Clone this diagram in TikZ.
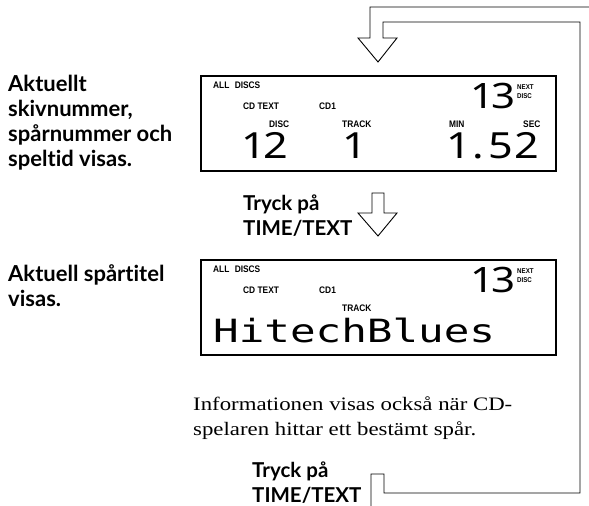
\documentclass[tikz,border=0pt]{standalone}
\usepackage{graphicx}
\usepackage{fontspec}
\setmainfont{Liberation Serif}
\newfontfamily\hd{Lato}[Ligatures=NoCommon]
\newfontfamily\lab{Liberation Sans}[FakeStretch=0.88]
\newfontfamily\lcdfont{Noto Sans}
\newfontfamily\mono{DejaVu Sans Mono}[FakeStretch=1.33]
\newfontfamily\para{Liberation Serif}[FakeStretch=1.2]
\newcommand{\lcdwide}[1]{\scalebox{1.2}[1]{#1}}
\tikzset{
  lcdbox/.style={draw, line width=1.5pt, minimum width=355pt, minimum height=95pt, inner sep=0pt, anchor=north west},
  lbl/.style={font=\lab\bfseries\fontsize{9.5}{9.5}\selectfont, inner sep=0pt, anchor=base west},
  smlbl/.style={font=\lab\bfseries\fontsize{7}{7}\selectfont, inner sep=0pt, anchor=base west},
  dig/.style={font=\lcdfont\fontsize{36}{36}\selectfont, inner sep=0pt, anchor=base},
  sdig/.style={font=\lcdfont\fontsize{35}{35}\selectfont, inner sep=0pt, anchor=base},
  side/.style={font=\hd\bfseries\fontsize{22}{25}\selectfont, align=left, inner sep=0pt, anchor=base west},
  tryck/.style={font=\hd\bfseries\fontsize{20.5}{25}\selectfont, align=left, inner sep=0pt, anchor=base west},
  note/.style={font=\para\fontsize{19}{25}\selectfont, align=left, inner sep=0pt, anchor=base west},
  hollow/.style={draw, line width=0.9pt, line join=miter},
}
\begin{document}
\begin{tikzpicture}[x=1pt,y=-1pt]
\useasboundingbox (0,0) rectangle (589,506);

% side texts (anchor = baseline of the last line)
\node[side] (s1) at (8,166) {Aktuellt\\skivnummer,\\spårnummer och\\speltid visas.};
\node[side] (s2) at (8,306) {Aktuell spårtitel\\visas.};
\node[tryck] (t1) at (243,235) {Tryck på\\TIME/TEXT};
\node[tryck] (t2) at (252,502) {Tryck på\\TIME/TEXT};
\node[note] (n1) at (193,435) {Informationen visas också när CD-\\spelaren hittar ett bestämt spår.};

% display 1
\node[lcdbox] (box1) at (200,75) {};
\node[lbl] (b1all) at (213,88) {ALL\hspace{3pt} DISCS};
\node[lbl] (b1cdt) at (243,109) {CD TEXT};
\node[lbl] (b1cd1) at (319,109) {CD1};
\node[lbl] (b1disc) at (269,127) {DISC};
\node[lbl] (b1track) at (342,127) {TRACK};
\node[lbl] (b1min) at (449,127) {MIN};
\node[lbl] (b1sec) at (523,127) {SEC};
\node[smlbl] (b1next) at (517,89) {NEXT};
\node[smlbl] (b1ndisc) at (517,98) {DISC};
\node[sdig] (b1n1) at (482.5,108) {\lcdwide{1}};
\node[sdig] (b1n3) at (504,108) {\lcdwide{3}};
\node[dig] (b1d1) at (253.7,158) {\lcdwide{1}};
\node[dig] (b1d2) at (276,158) {\lcdwide{2}};
\node[dig] (b1t1) at (354.7,158) {\lcdwide{1}};
\node[dig] (b1m1) at (458.7,158) {\lcdwide{1}};
\node[dig] (b1dot) at (478,158) {\lcdwide{.}};
\node[dig] (b1s5) at (501,158) {\lcdwide{5}};
\node[dig] (b1s2) at (527,158) {\lcdwide{2}};

% display 2
\node[lcdbox] (box2) at (200,259) {};
\node[lbl] (b2all) at (213,272) {ALL\hspace{3pt} DISCS};
\node[lbl] (b2cdt) at (243,293) {CD TEXT};
\node[lbl] (b2cd1) at (319,293) {CD1};
\node[lbl] (b2track) at (342,311) {TRACK};
\node[smlbl] (b2next) at (517,273) {NEXT};
\node[smlbl] (b2ndisc) at (517,282) {DISC};
\node[sdig] (b2n1) at (482.5,292) {\lcdwide{1}};
\node[sdig] (b2n3) at (504,292) {\lcdwide{3}};
\node[font=\mono\fontsize{32}{32}\selectfont, inner sep=0pt, anchor=base west] (title) at (213,342) {HitechBlues};

% hollow arrows
\draw[hollow] (589,7) -- (370,7) -- (370,38) -- (358,38) -- (378,62) -- (397,38)
  -- (383,38) -- (383,22) -- (580,22) -- (580,493) -- (384,493) -- (384,474)
  -- (371,474) -- (371,506);
\draw[hollow] (372,193) -- (372,213) -- (358,213) -- (378,236) -- (397,213)
  -- (384,213) -- (384,193) -- cycle;
\end{tikzpicture}
\end{document}
